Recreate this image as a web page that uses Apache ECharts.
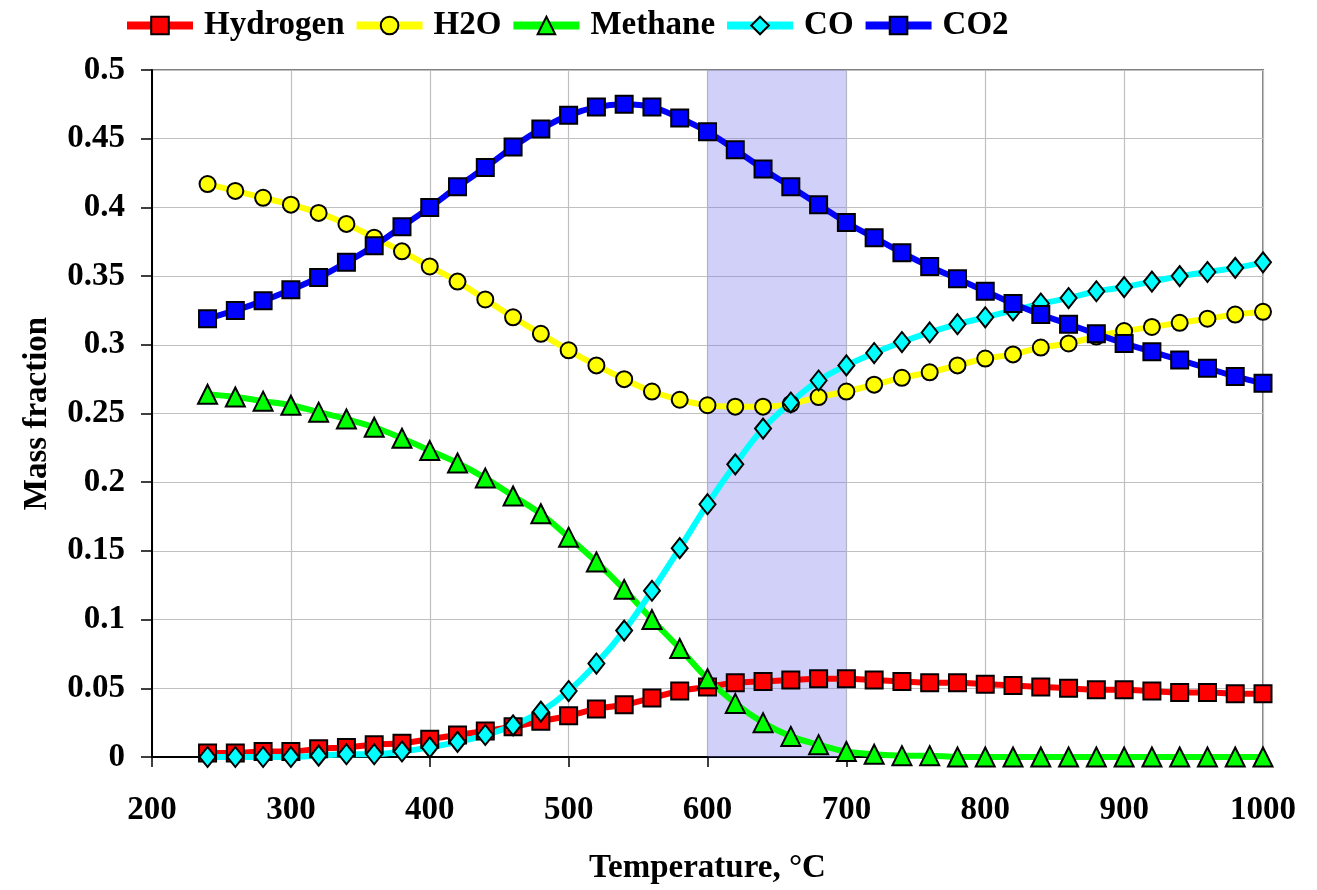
<!DOCTYPE html>
<html>
<head>
<meta charset="utf-8">
<script src="https://cdn.jsdelivr.net/npm/echarts@6/dist/echarts.min.js"></script>
<style>
html,body{margin:0;padding:0;background:#fff;}
#chart{width:1317px;height:890px;}
</style>
</head>
<body>
<div id="chart"></div>
<script>
var temperature = [240,260,280,300,320,340,360,380,400,420,440,460,480,500,520,540,560,580,600,620,640,660,680,700,720,740,760,780,800,820,840,860,880,900,920,940,960,980,1000];
var hydrogen = [0.003,0.003,0.004,0.004,0.006,0.007,0.009,0.010,0.013,0.016,0.019,0.022,0.026,0.030,0.035,0.038,0.043,0.048,0.051,0.054,0.055,0.056,0.057,0.057,0.056,0.055,0.054,0.054,0.053,0.052,0.051,0.050,0.049,0.049,0.048,0.047,0.047,0.046,0.046];
var h2o = [0.417,0.412,0.407,0.402,0.396,0.388,0.378,0.368,0.357,0.346,0.333,0.320,0.308,0.296,0.285,0.275,0.266,0.260,0.256,0.255,0.255,0.257,0.262,0.266,0.271,0.276,0.280,0.285,0.290,0.293,0.298,0.301,0.306,0.310,0.313,0.316,0.319,0.322,0.324];
var methane = [0.264,0.262,0.259,0.256,0.251,0.246,0.240,0.232,0.223,0.214,0.203,0.190,0.177,0.160,0.142,0.122,0.100,0.079,0.057,0.039,0.025,0.015,0.009,0.004,0.002,0.001,0.001,0,0,0,0,0,0,0,0,0,0,0,0];
var co = [0.000,0.000,0.000,0.000,0.001,0.002,0.002,0.004,0.007,0.011,0.016,0.023,0.033,0.048,0.068,0.092,0.121,0.152,0.184,0.213,0.239,0.258,0.274,0.285,0.294,0.302,0.309,0.315,0.320,0.325,0.330,0.334,0.339,0.342,0.346,0.350,0.353,0.356,0.360];
var co2 = [0.319,0.325,0.332,0.340,0.349,0.360,0.372,0.386,0.400,0.415,0.429,0.444,0.457,0.467,0.473,0.475,0.473,0.465,0.455,0.442,0.428,0.415,0.402,0.389,0.378,0.367,0.357,0.348,0.339,0.330,0.322,0.315,0.308,0.301,0.295,0.289,0.283,0.277,0.272];
var seriesNames = ['Hydrogen','H2O','Methane','CO','CO2'];
var bandRange = [600, 700];

function pairs(ys){ return temperature.map(function(x,i){ return [x, ys[i]]; }); }

var FONT = '"Liberation Serif", "Times New Roman", serif';
var chart = echarts.init(document.getElementById('chart'), null, {renderer:'canvas'});

function mk(name, data, color, symbol, size){
  return {
    name: name, type: 'line', data: pairs(data), smooth: 0.4,
    symbol: symbol, symbolSize: size,
    lineStyle: {color: color, width: 6},
    itemStyle: {color: color, borderColor: '#000', borderWidth: 2},
    emphasis: {disabled: true},
    animation: false
  };
}

var series = [
  mk(seriesNames[0], hydrogen, '#ff0000', 'rect', 17),
  mk(seriesNames[1], h2o, '#ffff00', 'circle', 16),
  mk(seriesNames[2], methane, '#00ff00', 'triangle', 19),
  mk(seriesNames[3], co, '#00ffff', 'diamond', [16,20]),
  mk(seriesNames[4], co2, '#0000ff', 'rect', 17)
];
series[0].markArea = {
  silent: true,
  itemStyle: {color: 'rgba(110,110,235,0.32)'},
  data: [[{xAxis: bandRange[0]}, {xAxis: bandRange[1]}]]
};

chart.setOption({
  animation: false,
  backgroundColor: '#fff',
  grid: {left: 152, right: 54, top: 70, bottom: 133, show: true, borderColor: '#808080', borderWidth: 2, backgroundColor: 'transparent'},
  legend: {
    data: seriesNames,
    left: 118, top: 4,
    itemWidth: 66, itemHeight: 22, itemGap: 8,
    lineStyle: {width: 8},
    textStyle: {fontFamily: FONT, fontWeight: 'bold', fontSize: 33, color: '#000', padding: [0,0,0,6]}
  },
  xAxis: {
    type: 'value', min: 200, max: 1000, interval: 100,
    name: 'Temperature, °C', nameLocation: 'middle', nameGap: 95,
    nameTextStyle: {fontFamily: FONT, fontWeight: 'bold', fontSize: 33, color: '#000'},
    axisLine: {show: true, onZero: false, lineStyle: {color: '#000', width: 2}},
    axisTick: {show: true, inside: false, length: 10, lineStyle: {color: '#000', width: 1.5}},
    axisLabel: {margin: 37, fontFamily: FONT, fontWeight: 'bold', fontSize: 33, color: '#000',
      formatter: function(v){ return String(v); }},
    splitLine: {show: true, lineStyle: {color: '#c0c0c0', width: 1.2}}
  },
  yAxis: {
    type: 'value', min: 0, max: 0.5, interval: 0.05,
    name: 'Mass fraction', nameLocation: 'middle', nameGap: 98, nameRotate: 90,
    nameTextStyle: {fontFamily: FONT, fontWeight: 'bold', fontSize: 33, color: '#000'},
    axisLine: {show: true, lineStyle: {color: '#000', width: 2}},
    axisTick: {show: true, inside: false, length: 11, lineStyle: {color: '#000', width: 1.5}},
    axisLabel: {margin: 27, fontFamily: FONT, fontWeight: 'bold', fontSize: 33, color: '#000',
      formatter: function(v){ return String(+v.toFixed(2)); }},
    splitLine: {show: true, lineStyle: {color: '#c0c0c0', width: 1.2}}
  },
  series: series
});
</script>
</body>
</html>
